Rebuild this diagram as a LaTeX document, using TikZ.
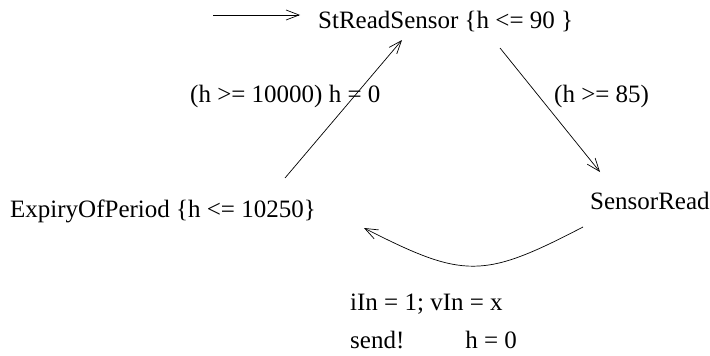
\documentclass[tikz,border=0pt]{standalone}
\usepackage{fontspec}
\setmainfont{Liberation Serif}
\usetikzlibrary{arrows.meta,calc}
\tikzset{
  lbl/.style={anchor=base west, inner sep=0pt, font=\fontsize{25}{30}\selectfont},
  conn/.style={line width=0.7pt, -{Straight Barb[length=13pt,width=10pt,line width=0.7pt]}}
}
\begin{document}
\begin{tikzpicture}[x=1pt,y=-1pt]
\useasboundingbox (0,0) rectangle (710,356);
\node[lbl] (st) at (318,28) {StReadSensor \{h <= 90 \}};
\node[lbl] (exp) at (10,217) {ExpiryOfPeriod \{h <= 10250\}};
\node[lbl] (sr) at (590,209) {SensorRead};
\node[lbl] (g1) at (190,102) {(h >= 10000) h = 0};
\node[lbl] (g2) at (554,102) {(h >= 85)};
\node[lbl] (a1) at (350,310) {iIn = 1; vIn = x};
\node[lbl] (a2) at (350,348) {send!\hspace{61pt}h = 0};
\coordinate (init) at (213,15);
\draw[conn] (init) -- ([shift={(-18,-13)}]st.base west);
\draw[conn] ([shift={(275,-39)}]exp.base west) -- ([shift={(84,12)}]st.base west);
\draw[conn] ([shift={(182,20)}]st.base west) -- ([shift={(10,-37)}]sr.base west);
\draw[conn] ([shift={(-7,18)}]sr.base west) .. controls (483,279) and (464,279) .. ([shift={(354,11)}]exp.base west);
\end{tikzpicture}
\end{document}
